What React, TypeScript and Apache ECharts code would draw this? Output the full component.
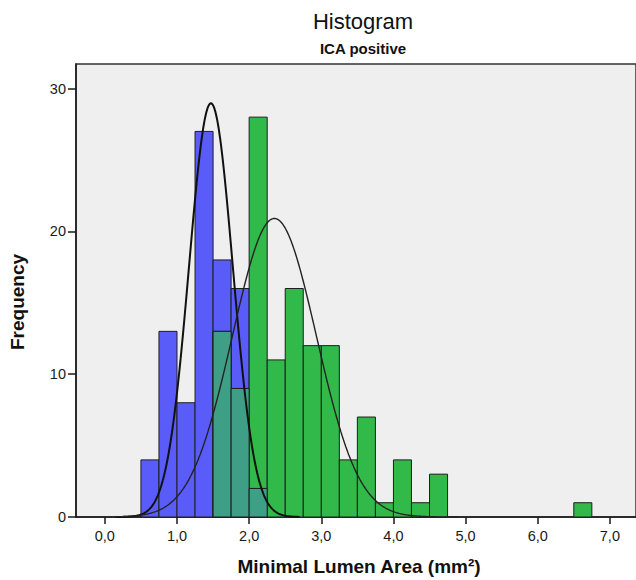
import React, { useEffect, useRef } from "react";
import * as echarts from "echarts";

// Histogram bins (bin start values, bin width 0.25 mm²)
const binWidth = 0.25;
const blueBinStarts = [0.5, 0.75, 1.0, 1.25, 1.5, 1.75, 2.0];
const blueCounts = [4, 13, 8, 27, 18, 16, 2];
const greenBinStarts = [1.5, 1.75, 2.0, 2.25, 2.5, 2.75, 3.0, 3.25, 3.5, 3.75, 4.0, 4.25, 4.5, 6.5];
const greenCounts = [13, 9, 28, 11, 16, 12, 12, 4, 7, 1, 4, 1, 3, 1];

// Fitted normal curve parameters
const blueMean = 1.47;
const blueSd = 0.303;
const greenMean = 2.35;
const greenSd = 0.582;

const xTicks = [0, 1, 2, 3, 4, 5, 6, 7];
const yTicks = [0, 10, 20, 30];

const BLUE = "#5a5cfa";
const GREEN = "#31b94a";
const TEAL = "#3e9e86";
const BORDER = "#1e1e1e";

function sum(a: number[]) {
  return a.reduce((s, v) => s + v, 0);
}

function normalCurve(mean: number, sd: number, n: number, from: number, to: number) {
  const pts: number[][] = [];
  const k = (n * binWidth) / (sd * Math.sqrt(2 * Math.PI));
  for (let x = from; x <= to + 1e-9; x += 0.01) {
    const z = (x - mean) / sd;
    pts.push([x, k * Math.exp(-0.5 * z * z)]);
  }
  return pts;
}

function bins(starts: number[], counts: number[]) {
  return starts.map((s, i) => [s, s + binWidth, counts[i]]);
}

function overlapBins() {
  const out: number[][] = [];
  blueBinStarts.forEach((s, i) => {
    const j = greenBinStarts.findIndex((g) => Math.abs(g - s) < 1e-9);
    if (j >= 0) out.push([s, s + binWidth, Math.min(blueCounts[i], greenCounts[j])]);
  });
  return out;
}

function rectRenderer(color: string) {
  return (params: any, api: any) => {
    const x0 = api.value(0);
    const x1 = api.value(1);
    const y = api.value(2);
    const p0 = api.coord([x0, y]);
    const p1 = api.coord([x1, 0]);
    return {
      type: "rect",
      shape: { x: p0[0], y: p0[1], width: p1[0] - p0[0], height: p1[1] - p0[1] },
      style: { fill: color, stroke: BORDER, lineWidth: 1 },
    };
  };
}

export default function App() {
  const ref = useRef<HTMLDivElement>(null);
  useEffect(() => {
    if (!ref.current) return;
    const chart = echarts.init(ref.current, undefined, { renderer: "svg" });
    const font = "'Liberation Sans', Arial, sans-serif";
    chart.setOption({
      animation: false,
      backgroundColor: "#ffffff",
      textStyle: { fontFamily: font },
      grid: {
        left: 76,
        right: -2,
        top: 64,
        bottom: 63,
        show: true,
        backgroundColor: "#efefef",
        borderColor: "#333333",
        borderWidth: 1.5,
      },
      xAxis: {
        type: "value",
        min: -0.4,
        max: 7.362,
        splitLine: { show: false },
        axisLine: { show: true, onZero: false, lineStyle: { color: "#1a1a1a", width: 1.5 } },
        axisTick: {
          show: true,
          customValues: xTicks,
          length: 7,
          lineStyle: { color: "#1a1a1a", width: 1.5 },
        },
        axisLabel: {
          customValues: xTicks,
          formatter: (v: number) => v.toFixed(1).replace(".", ","),
          color: "#1a1a1a",
          fontSize: 14.5,
          margin: 11,
          fontFamily: font,
        },
      },
      yAxis: {
        type: "value",
        min: 0,
        max: 31.72,
        splitLine: { show: false },
        axisLine: { show: true, onZero: false, lineStyle: { color: "#1a1a1a", width: 1.5 } },
        axisTick: {
          show: true,
          customValues: yTicks,
          length: 8,
          lineStyle: { color: "#1a1a1a", width: 1.5 },
        },
        axisLabel: {
          customValues: yTicks,
          color: "#1a1a1a",
          fontSize: 14.5,
          margin: 10,
          fontFamily: font,
        },
      },
      graphic: [
        {
          type: "text",
          x: 363,
          y: 21,
          style: {
            text: "Histogram",
            fontSize: 22,
            fontFamily: font,
            fill: "#111",
            align: "center",
            verticalAlign: "middle",
          },
        },
        {
          type: "text",
          x: 363,
          y: 48,
          style: {
            text: "ICA positive",
            fontSize: 15,
            fontWeight: "bold",
            fontFamily: font,
            fill: "#111",
            align: "center",
            verticalAlign: "middle",
          },
        },
        {
          type: "text",
          x: 359,
          y: 566,
          style: {
            text: "Minimal Lumen Area (mm²)",
            fontSize: 19,
            fontWeight: "bold",
            fontFamily: font,
            fill: "#111",
            align: "center",
            verticalAlign: "middle",
          },
        },
        {
          type: "text",
          x: 17,
          y: 302,
          rotation: Math.PI / 2,
          style: {
            text: "Frequency",
            fontSize: 19,
            fontWeight: "bold",
            fontFamily: font,
            fill: "#111",
            align: "center",
            verticalAlign: "middle",
          },
        },
      ],
      series: [
        {
          type: "custom",
          name: "blue",
          renderItem: rectRenderer(BLUE),
          encode: { x: [0, 1], y: 2 },
          data: bins(blueBinStarts, blueCounts),
          z: 2,
        },
        {
          type: "custom",
          name: "green",
          renderItem: rectRenderer(GREEN),
          encode: { x: [0, 1], y: 2 },
          data: bins(greenBinStarts, greenCounts),
          z: 3,
        },
        {
          type: "custom",
          name: "overlap",
          renderItem: rectRenderer(TEAL),
          encode: { x: [0, 1], y: 2 },
          data: overlapBins(),
          z: 4,
        },
        {
          type: "line",
          name: "blue fit",
          data: normalCurve(blueMean, blueSd, sum(blueCounts), 0.15, 2.7),
          showSymbol: false,
          smooth: false,
          lineStyle: { color: "#111", width: 2 },
          z: 5,
        },
        {
          type: "line",
          name: "green fit",
          data: normalCurve(greenMean, greenSd, sum(greenCounts), 0.15, 4.9),
          showSymbol: false,
          smooth: false,
          lineStyle: { color: "#222", width: 1.4 },
          z: 5,
        },
      ],
    });
    return () => chart.dispose();
  }, []);
  return (
    <div
      ref={ref}
      style={{ position: "fixed", left: 0, top: 0, width: 636, height: 580 }}
    />
  );
}
